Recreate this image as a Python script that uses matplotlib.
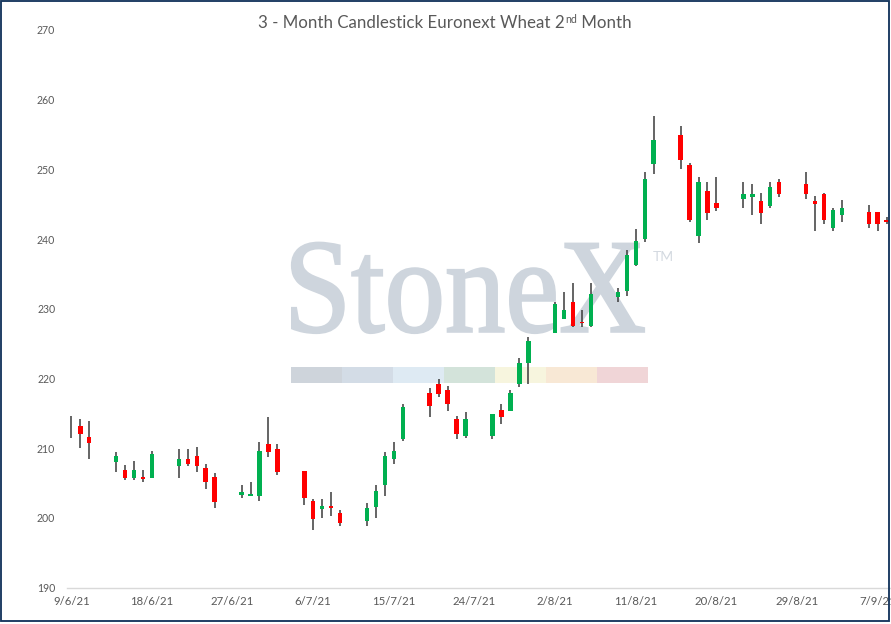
import matplotlib
matplotlib.use("Agg")
import matplotlib.pyplot as plt
import matplotlib.dates as mdates
from matplotlib.patches import Rectangle, PathPatch
from matplotlib.textpath import TextPath
from matplotlib.font_manager import FontProperties
from matplotlib.transforms import Affine2D
import pandas as pd
import numpy as np

# ---------------- data ----------------
dates = ["9/6/21", "10/6/21", "11/6/21", "14/6/21", "15/6/21", "16/6/21", "17/6/21", "18/6/21",
         "21/6/21", "22/6/21", "23/6/21", "24/6/21", "25/6/21", "28/6/21", "29/6/21", "30/6/21",
         "1/7/21", "2/7/21", "5/7/21", "6/7/21", "7/7/21", "8/7/21", "9/7/21", "12/7/21",
         "13/7/21", "14/7/21", "15/7/21", "16/7/21", "19/7/21", "20/7/21", "21/7/21", "22/7/21",
         "23/7/21", "26/7/21", "27/7/21", "28/7/21", "29/7/21", "30/7/21", "2/8/21", "3/8/21",
         "4/8/21", "5/8/21", "6/8/21", "9/8/21", "10/8/21", "11/8/21", "12/8/21", "13/8/21",
         "16/8/21", "17/8/21", "18/8/21", "19/8/21", "20/8/21", "23/8/21", "24/8/21", "25/8/21",
         "26/8/21", "27/8/21", "30/8/21", "31/8/21", "1/9/21", "2/9/21", "3/9/21", "6/9/21",
         "7/9/21", "8/9/21"]
opens = [213.0, 213.2, 211.6, 208.1, 206.9, 205.8, 205.9, 205.8,
         207.4, 208.5, 208.9, 207.2, 205.9, 203.3, 203.1, 203.1,
         210.6, 209.9, 206.7, 202.4, 201.3, 201.7, 200.7, 199.6,
         201.6, 204.8, 208.4, 211.3, 217.9, 219.2, 218.4, 214.2,
         211.8, 211.8, 215.5, 215.4, 219.2, 222.3, 226.6, 228.6,
         231.0, 228.1, 227.5, 231.7, 232.6, 236.3, 240.0, 250.8,
         254.9, 250.6, 240.4, 246.9, 245.2, 245.8, 246.1, 245.5,
         244.8, 248.2, 247.9, 245.5, 246.5, 241.6, 243.4, 243.9,
         243.9, 242.8]
highs = [214.6, 214.2, 213.9, 209.5, 207.6, 208.2, 206.9, 209.6,
         209.9, 209.9, 210.2, 207.8, 206.4, 204.7, 205.2, 210.9,
         214.5, 210.6, 206.7, 202.7, 202.7, 203.7, 201.1, 202.1,
         204.8, 209.4, 210.9, 216.4, 218.6, 219.9, 218.9, 214.6,
         215.2, 214.9, 216.4, 218.4, 222.9, 225.9, 231.0, 232.4,
         233.7, 229.9, 233.7, 233.0, 238.4, 241.5, 249.6, 257.7,
         256.2, 250.9, 248.9, 248.2, 248.9, 248.2, 247.9, 246.6,
         248.2, 248.6, 249.6, 246.2, 246.6, 244.5, 245.6, 244.9,
         243.9, 243.2]
lows = [211.5, 210.1, 208.5, 206.6, 205.4, 205.4, 205.1, 205.8,
        205.8, 207.4, 206.6, 204.1, 201.4, 202.8, 203.1, 202.4,
        208.8, 206.1, 201.8, 198.3, 200.0, 200.3, 198.8, 198.8,
        200.0, 203.1, 207.8, 211.1, 214.5, 217.3, 215.4, 211.4,
        211.5, 211.4, 213.5, 215.4, 218.8, 219.2, 226.6, 228.6,
        227.4, 227.4, 227.4, 231.0, 231.9, 236.1, 239.6, 249.4,
        250.1, 242.4, 239.4, 242.7, 244.1, 244.4, 243.4, 242.1,
        244.4, 246.1, 245.8, 241.1, 242.1, 241.1, 242.4, 241.6,
        241.1, 242.1]
closes = [213.0, 212.1, 210.8, 208.9, 205.8, 206.9, 205.6, 209.2,
          208.5, 207.8, 207.5, 205.1, 202.3, 203.7, 203.4, 209.6,
          209.4, 206.6, 202.8, 199.8, 201.7, 201.5, 199.3, 201.4,
          203.9, 208.9, 209.6, 215.9, 216.1, 217.8, 216.3, 212.1,
          214.2, 214.9, 214.5, 217.9, 222.2, 225.4, 230.7, 229.9,
          227.5, 227.9, 232.1, 232.4, 237.7, 239.7, 248.6, 254.2,
          251.4, 242.7, 248.2, 243.7, 244.4, 246.5, 246.5, 243.8,
          247.5, 246.5, 246.5, 245.1, 242.7, 244.2, 244.5, 242.1,
          242.1, 242.4]
tick_labels = ["9/6/21", "18/6/21", "27/6/21", "6/7/21", "15/7/21", "24/7/21",
               "2/8/21", "11/8/21", "20/8/21", "29/8/21", "7/9/21"]
y_ticks = [190, 200, 210, 220, 230, 240, 250, 260, 270]
title_main = "3 - Month Candlestick Euronext Wheat 2"
title_sup = "nd"
title_end = " Month"

# ---------------- figure ----------------
W, H = 891, 624
fig = plt.figure(figsize=(W / 100, H / 100), dpi=100)
fig.patch.set_facecolor("white")

def fx(px):
    return px / W

def fy(py_top):
    return (H - py_top) / H

ax_left, ax_right = 67, 890
ax_top, ax_bottom = 30.0, 587.7
ax = fig.add_axes([fx(ax_left), fy(ax_bottom), fx(ax_right - ax_left), (ax_bottom - ax_top) / H])
ax.set_facecolor("none")
ax.set_zorder(1)

x = mdates.date2num(pd.to_datetime(dates, format="%d/%m/%y"))
o = np.array(opens); c = np.array(closes); h = np.array(highs); l = np.array(lows)
up = c >= o
colors = np.where(up, "#00B050", "#FF0000")

ax.vlines(x, l, h, color="#3A3A3A", linewidth=1.1, zorder=2)
ax.bar(x, np.abs(c - o), bottom=np.minimum(o, c), width=0.5, color=colors,
       linewidth=0, zorder=3)

x0 = mdates.date2num(pd.to_datetime(dates[0], format="%d/%m/%y"))
ax.set_xlim(x0 - 0.48, x0 - 0.48 + (ax_right - ax_left) / 8.96)
ax.set_ylim(190, 270)

tx = mdates.date2num(pd.to_datetime(tick_labels, format="%d/%m/%y"))
ax.set_xticks(tx)
ax.set_xticklabels(tick_labels)
ax.set_yticks(y_ticks)
ax.set_yticklabels([str(v) for v in y_ticks])

for side in ["top", "right", "left"]:
    ax.spines[side].set_visible(False)
ax.spines["bottom"].set_color("#D9D9D9")
ax.spines["bottom"].set_linewidth(1.0)
ax.tick_params(axis="both", length=0, colors="#595959")
ax.tick_params(axis="x", pad=6, labelsize=8.2)
ax.tick_params(axis="y", pad=8.5, labelsize=7.6)
for lab in ax.get_xticklabels() + ax.get_yticklabels():
    lab.set_fontfamily("Lato")
ax.grid(False)

# ---------------- watermark ----------------
tp = TextPath((0, 0), "StoneX", size=100, prop=FontProperties(family="Liberation Serif"))
bb = tp.get_extents()
wx0, wx1 = 292, 644
wy0, wy1 = 242.7, 333
tr = (Affine2D().translate(-bb.x0, -bb.y0)
      .scale((fx(wx1) - fx(wx0)) / bb.width, (fy(wy0) - fy(wy1)) / bb.height)
      .translate(fx(wx0), fy(wy1)))
fig.patches.append(PathPatch(tr.transform_path(tp), transform=fig.transFigure,
                             facecolor="#CED5DD", edgecolor="#CED5DD", linewidth=1.6,
                             zorder=-2))
fig.text(fx(653), fy(261), "TM", fontsize=10, color="#D3D9E0", family="Lato",
         va="baseline", ha="left", zorder=-2)

strip_cols = ["#CED4DB", "#D3DCE6", "#DEEAF3", "#D3E3DA", "#F7F5DE", "#F8E8D5", "#F0D5D7"]
sx0, sw = 291, 51.0
for i, col in enumerate(strip_cols):
    fig.patches.append(Rectangle((fx(sx0 + i * sw), fy(383.3)), fx(sw), (383.3 - 366.7) / H,
                                 transform=fig.transFigure, facecolor=col,
                                 edgecolor="none", zorder=-2))

# ---------------- title ----------------
FS = 12.2
base_y = fy(28.3)
tkw = dict(color="#595959", family="Lato", va="baseline")
t1 = fig.text(0, base_y, title_main, fontsize=FS, **tkw)
t2 = fig.text(0, base_y, title_sup, fontsize=FS * 0.62, **tkw)
t3 = fig.text(0, base_y, title_end, fontsize=FS, **tkw)
fig.canvas.draw()
r = fig.canvas.get_renderer()
w1 = t1.get_window_extent(r).width
w2 = t2.get_window_extent(r).width
w3 = t3.get_window_extent(r).width
start = 444.5 - (w1 + w2 + w3) / 2
t1.set_x(fx(start))
t2.set_x(fx(start + w1 + 0.5))
t2.set_y(fy(28.3 - 5.5))
t3.set_x(fx(start + w1 + w2 + 0.5))

# ---------------- border ----------------
fig.patches.append(Rectangle((fx(0.9), fy(621.1)), fx(889.1 - 0.9), (621.1 - 0.9) / H,
                             transform=fig.transFigure, facecolor="none",
                             edgecolor="#17375E", linewidth=1.35, zorder=10))

fig.savefig("out.png", dpi=100)
